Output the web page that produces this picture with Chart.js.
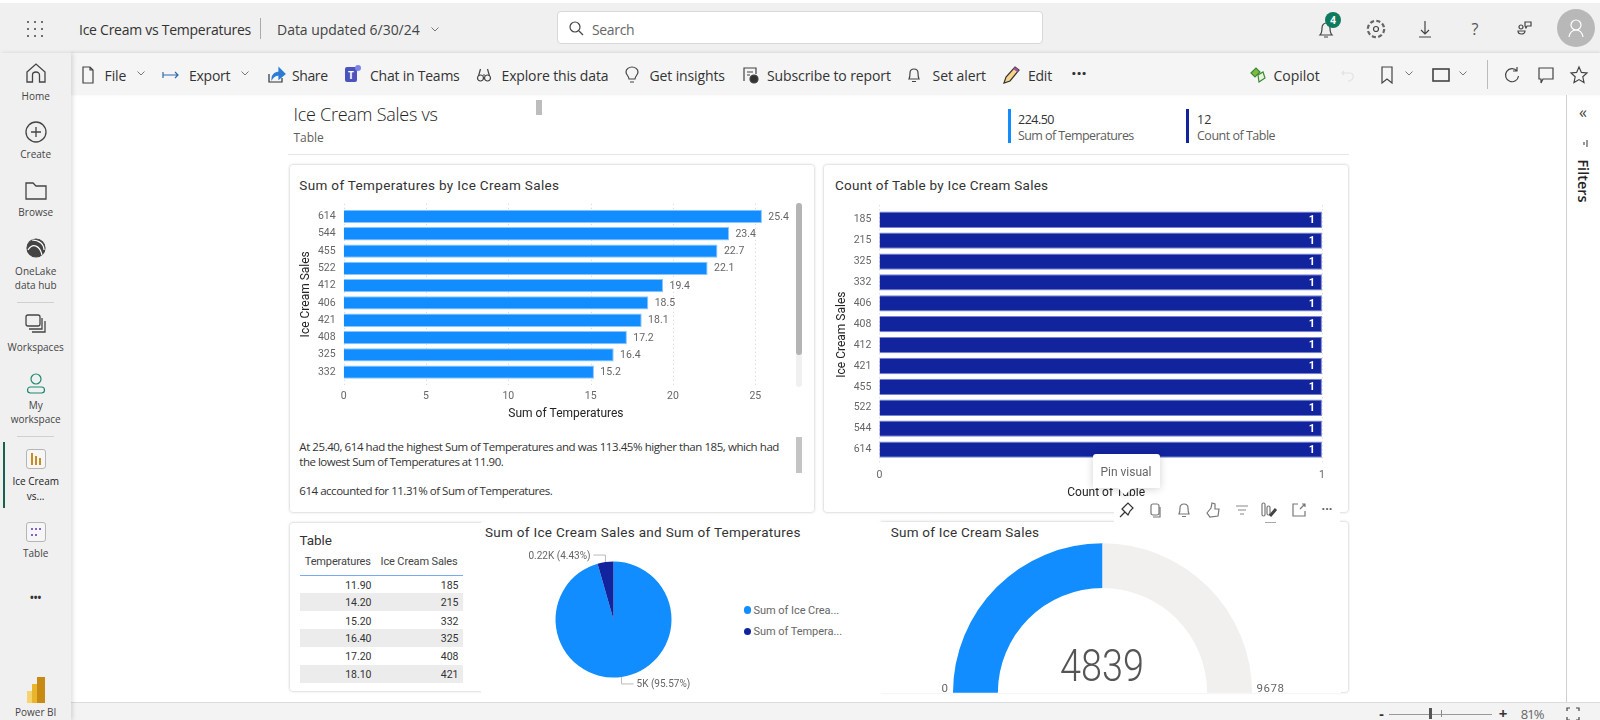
<!DOCTYPE html>
<html>
<head>
<meta charset="utf-8">
<title>Ice Cream vs Temperatures</title>
<script src="https://cdn.jsdelivr.net/npm/chart.js@4/dist/chart.umd.min.js"></script>
<style>
html, body { margin: 0; padding: 0; background: #fff; }
#page { position: relative; width: 1600px; height: 720px; overflow: hidden; background: #fff; }
#page div, #page span, #page canvas, #page svg { position: absolute; }
.t { white-space: nowrap; line-height: 1; transform: translateY(-50%); }
svg { fill: none; stroke: #444; stroke-width: 1.2; overflow: visible; }
</style>
</head>
<body>
<div id="page"></div>
<script>
// data
const salesTop = ['614', '544', '455', '522', '412', '406', '421', '408', '325', '332'];
const tempsTop = [25.4, 23.4, 22.7, 22.1, 19.4, 18.5, 18.1, 17.2, 16.4, 15.2];
const salesAll = ['185', '215', '325', '332', '406', '408', '412', '421', '455', '522', '544', '614'];
const counts = [1, 1, 1, 1, 1, 1, 1, 1, 1, 1, 1, 1];
const tableTemps = ['11.90', '14.20', '15.20', '16.40', '17.20', '18.10'];
const tableSales = ['185', '215', '332', '325', '408', '421'];
const pieNames = ['Sum of Ice Crea...', 'Sum of Tempera...'];
const pieValues = [4839, 224.5];
const pieText = ['5K (95.57%)', '0.22K (4.43%)'];
const gaugeValues = [4839, 4839];
const gaugeText = ['0', '4839', '9678'];

const BLUE = '#118DFF', NAVY = '#12239E';
const UI = '"Open Sans", "Noto Sans", sans-serif';
const DIN = 'Roboto, "Noto Sans", sans-serif';
const page = document.getElementById('page');

function box(x, y, w, h, bg, extra) {
    const d = document.createElement('div');
    d.style.cssText = `left:${x}px;top:${y}px;width:${w}px;height:${h}px;background:${bg};${extra || ''}`;
    page.appendChild(d);
    return d;
}

// y is the text's vertical centre; x2 stretches the text to end at that x
function text(x, y, s, size, color, o) {
    o = o || {};
    const d = document.createElement('div');
    d.className = 't';
    d.textContent = s;
    d.style.cssText = `top:${y}px;font:${o.weight || 400} ${size}px ${o.font || UI};color:${color};`;
    if (o.right !== undefined) d.style.right = (1600 - o.right) + 'px';
    else if (o.center) { d.style.left = x + 'px'; d.style.transform = 'translate(-50%,-50%)'; }
    else d.style.left = x + 'px';
    page.appendChild(d);
    if (o.x2) d.style.letterSpacing = ((o.x2 - x - d.offsetWidth) / s.length) + 'px';
    return d;
}

function icon(x, y, body, o) {
    const s = document.createElementNS('http://www.w3.org/2000/svg', 'svg');
    s.setAttribute('width', 24);
    s.setAttribute('height', 24);
    s.setAttribute('viewBox', '-12 -12 24 24');
    s.style.left = (x - 12) + 'px';
    s.style.top = (y - 12) + 'px';
    if (o && o.sw) s.style.strokeWidth = o.sw;
    s.innerHTML = body;
    page.appendChild(s);
}

const chev = '<path d="M-3.5 -1.5 L0 2 L3.5 -1.5" stroke="#777" stroke-width="1"/>';

// app chrome
box(0, 0, 1600, 3, '#fff');
box(0, 3, 1600, 50, '#f0f0f0');
box(71, 53, 1529, 42, '#f5f5f5', 'box-shadow:0 -1px 3px rgba(0,0,0,.1);');
box(71, 702, 1529, 18, '#f3f3f3', 'border-top:1px solid #dcdcdc;box-sizing:border-box;');
box(0, 53, 71, 667, '#f0f0f0', 'box-shadow:2px 0 4px rgba(0,0,0,.12);');
box(1566, 95, 1, 607, '#d0d0d0');

// top bar
[-1, 0, 1].forEach(r => [-1, 0, 1].forEach(c => box(35 + c * 7 - 1, 29 + r * 7 - 1, 2, 2, '#444', 'border-radius:50%;')));
text(79, 29, 'Ice Cream vs Temperatures', 14, '#333', { x2: 251.5 });
box(260, 18, 1, 21, '#aaa');
text(277, 29, 'Data updated 6/30/24', 14, '#444', { x2: 419.5 });
icon(435, 29, chev);
box(557, 11, 486, 33, '#fff', 'border:1px solid #d8d8d8;border-radius:4px;box-sizing:border-box;');
icon(576, 28, '<circle cx="-1" cy="-1" r="5"/><path d="M3 3 L7 7"/>');
text(592, 29, 'Search', 14, '#666', { x2: 634 });
icon(1325.5, 30, '<path d="M-6 5 C-4 3 -4 1 -4 -2 C-4 -5 -2 -7 0 -7 C2 -7 4 -5 4 -2 C4 1 4 3 6 5 Z M-2 7 L2 7"/>');
box(1325, 12, 16, 16, '#0e7a5e', 'border-radius:50%;');
text(1333, 20, '4', 10, '#fff', { center: true, weight: 700 });
icon(1375.5, 29, '<circle r="2.5"/><circle r="8" stroke-width="2.6" stroke-dasharray="4 2.3" stroke="#666"/><circle r="7" fill="#f0f0f0" stroke="none"/><circle r="2.5"/>');
icon(1425, 29, '<path d="M0 -8 L0 5 M-4 1 L0 5 L4 1 M-6 8 L6 8"/>');
text(1475, 29, '?', 16, '#555', { center: true });
icon(1524.5, 29, '<circle cx="-4" cy="-2" r="2"/><path d="M-7 2 L0 2 C0 6 -7 6 -7 2Z M0 -3 L0 -7 L6 -7 L6 -3 L2 -3 L1 -1 Z"/>');
box(1557, 9, 38, 38, '#b8b8b8', 'border-radius:50%;');
icon(1576, 28, '<circle cy="-3" r="5" stroke="#fff"/><path d="M-7 9 C-6 3 -3 2 0 2 C3 2 6 3 7 9" stroke="#fff"/>');

// ribbon
const ribbon = [
    [104.6, 'File', 126], [189, 'Export', 230.5], [292, 'Share', 328], [370, 'Chat in Teams', 460],
    [501.5, 'Explore this data', 608], [649.5, 'Get insights', 725], [767, 'Subscribe to report', 891],
    [932.6, 'Set alert', 986], [1028, 'Edit', 1052], [1273.5, 'Copilot', 1319.4]
];
ribbon.forEach(r => text(r[0], 74.7, r[1], 14, '#333', { x2: r[2] }));
icon(88, 74.5, '<path d="M-5 -8 L2 -8 L5 -5 L5 8 L-5 8 Z M2 -8 L2 -5 L5 -5"/>');
icon(141, 73, chev);
icon(171, 74.5, '<path d="M-8 -3 L-8 3 M-8 0 L7 0 M4 -3 L7 0 L4 3" stroke="#2b6cb0"/>');
icon(245, 73, chev);
icon(275.5, 74.5, '<path d="M-7 -1 L-7 7 L6 7 L6 3" stroke="#333"/><path d="M-4 4 C-4 -1 0 -3 3 -3 L3 -7 L9 -1 L3 4 L3 0 C0 0 -2 1 -4 4Z" fill="#2b7cd3" stroke="#2b7cd3"/>');
box(345, 67, 12, 15, '#4b53bc', 'border-radius:2px;');
box(355, 65, 6, 6, '#7b83eb', 'border-radius:50%;');
text(351, 74.7, 'T', 10, '#fff', { center: true, weight: 700 });
icon(484, 74.5, '<circle cx="-3.5" cy="3" r="3"/><circle cx="3.5" cy="3" r="3"/><path d="M-5.5 1 L-3.5 -6 M5.5 1 L3.5 -6 M-1 0 L1 0"/>');
icon(631.6, 74.5, '<path d="M-3 4 C-3 1 -6 0 -6 -3 C-6 -6 -3 -8 0 -8 C3 -8 6 -6 6 -3 C6 0 3 1 3 4 Z M-2 7 L2 7"/>');
icon(750, 74.5, '<path d="M-6 6 L-6 -7 L6 -7 L6 -1 M-3 -3 L3 -3 M-3 0 L0 0"/><circle cx="4" cy="4" r="4" fill="#333"/>');
icon(914, 74.5, '<path d="M-5 4 C-4 2 -4 0 -4 -2 C-4 -5 -2 -6 0 -6 C2 -6 4 -5 4 -2 C4 0 4 2 5 4 Z M-2 6.5 L2 6.5"/>');
icon(1011, 74.5, '<path d="M-7 8 L-5 2 L4 -8 L8 -5 L-1 6 Z" fill="#f6d58a" stroke="#333"/><path d="M3 -7 L7 -4" stroke="#a0509f" stroke-width="2.5"/>');
text(1079, 73, '···', 18, '#333', { center: true, weight: 700 });
icon(1257.6, 74.5, '<path d="M-7 -2 L-2 -7 L2 -3 L-3 2 Z" fill="#7fba3a" stroke="#3a8a3a"/><path d="M0 0 L5 -3 L7 3 L1 7 Z" fill="#e8f4d9" stroke="#3a8a3a"/>');
icon(1348, 74.5, '<path d="M-4 -4 L-6 -2 L-4 0 M-6 -2 L2 -2 C7 -2 6 6 0 6" stroke="#e2e2e2"/>');
icon(1386.7, 74.5, '<path d="M-5 -8 L5 -8 L5 8 L0 4 L-5 8 Z"/>');
icon(1408.7, 73, chev);
icon(1441, 74.5, '<rect x="-8" y="-6" width="16" height="12" stroke-width="1.6"/>');
icon(1463, 73, chev);
box(1487, 60, 1, 29, '#bbb');
icon(1511.7, 74.5, '<path d="M5 -4 A6.5 6.5 0 1 0 6.5 1 M5 -8 L5 -4 L1 -4"/>');
icon(1546, 74.5, '<path d="M-7 -7 L7 -7 L7 4 L-3 4 L-5 8 L-5 4 L-7 4 Z"/>');
icon(1579, 74.5, '<path d="M0 -8 L2.4 -2.6 L8 -2 L3.8 1.8 L5 7.5 L0 4.6 L-5 7.5 L-3.8 1.8 L-8 -2 L-2.4 -2.6 Z"/>');

// filter pane
text(1583, 112, '«', 16, '#444', { center: true });
icon(1587, 143, '<path d="M-3 -1 L-3 2 M0 -3 L0 4" stroke="#555"/>');
const filters = text(1583, 181, 'Filters', 14.5, '#222', { center: true, weight: 600, font: '"Open Sans", sans-serif' });
filters.style.transform = 'translate(-50%,-50%) rotate(90deg)';

// nav rail
const nav = [
    [95.7, 'Home'], [154, 'Create'], [212, 'Browse'], [271, 'OneLake'], [285, 'data hub'], [346.7, 'Workspaces'],
    [405, 'My'], [419, 'workspace'], [481, 'Ice Cream'], [495.7, 'vs...'], [553, 'Table'], [711.7, 'Power BI']
];
nav.forEach(n => text(35.7, n[0], n[1], 10, n[1] === 'Ice Cream' || n[1] === 'vs...' ? '#222' : '#444', { center: true }));
icon(35.7, 73, '<path d="M-9 -1 L0 -9 L9 -1 L9 9 L3.5 9 L3.5 2 C3.5 -2 -3.5 -2 -3.5 2 L-3.5 9 L-9 9 Z"/>', { sw: 1.3 });
icon(35.7, 131.7, '<circle r="10"/><path d="M0 -5 L0 5 M-5 0 L5 0"/>', { sw: 1.3 });
icon(35.7, 190.7, '<path d="M-10 8 L-10 -8 L-3 -8 L0 -5 L10 -5 L10 8 Z"/>', { sw: 1.3 });
icon(35.7, 248, '<circle r="9" fill="#444"/><path d="M-8 2 C-3 -6 4 -2 6 7 M-4 -8 C3 -8 8 -4 8 2" stroke="#fff"/>');
box(17, 302, 37, 1, '#d0d0d0');
icon(35.7, 323, '<rect x="-10" y="-8" width="14" height="11" rx="2"/><path d="M-7 6 L6 6 L6 -5 M-4 9 L9 9 L9 -2"/>', { sw: 1.3 });
icon(35.7, 383, '<circle cy="-4" r="5" stroke="#1a8a70"/><rect x="-8.5" y="4" width="17" height="6" rx="3" stroke="#1a8a70"/>', { sw: 1.2 });
box(17, 436, 37, 1, '#d0d0d0');
box(3, 442, 1, 66, '#17624f', 'width:1.5px;');
box(26, 449, 20, 20, '#f6f6f6', 'border:1px solid #b5b5b5;border-radius:3px;box-sizing:border-box;');
icon(35.7, 459, '<path d="M-4 -6 L-4 6 M0 -3 L0 6 M4 -1 L4 6" stroke="#c98a1f" stroke-width="2"/>');
box(26, 522, 20, 20, '#f6f6f6', 'border:1px solid #b5b5b5;border-radius:3px;box-sizing:border-box;');
[[-4, -3], [0, -3], [4, -3], [-4, 3], [0, 3]].forEach(p => box(35.7 + p[0] - 1, 532 + p[1] - 1, 2.2, 2.2, '#5b2fc0', 'border-radius:50%;'));
text(35.7, 597, '•••', 10, '#333', { center: true, weight: 700 });
box(27, 691, 8, 12, '#f7d36b');
box(32, 684, 8, 19, '#e9b52c');
box(37, 677, 8, 26, '#c98a14');

// status bar
text(1381.5, 713, '-', 14, '#333', { center: true, weight: 700 });
box(1388.5, 713.5, 103.5, 1, '#999');
box(1429, 708, 2.5, 11, '#555');
box(1441, 710, 1, 7, '#888');
text(1503, 713, '+', 15, '#333', { center: true, weight: 700 });
text(1520.7, 713.5, '81%', 13, '#666', { x2: 1544 });
icon(1572.6, 713.5, '<path d="M-6 -3 L-6 -6 L-3 -6 M3 -6 L6 -6 L6 -3 M6 3 L6 6 L3 6 M-3 6 L-6 6 L-6 3"/>');

// report header
text(293.4, 114, 'Ice Cream Sales vs', 18, '#252423', { x2: 437.8, weight: 300 });
text(293.4, 137, 'Table', 12, '#605e5c', { x2: 323.5 });
box(536, 100, 6, 15, '#bdbdbd');
box(288, 153.5, 1060.5, 1.5, '#e6e6e6');
box(1007.5, 109, 3, 34, BLUE);
text(1018, 118.7, '224.50', 12.5, '#333', { x2: 1054 });
text(1018, 135.3, 'Sum of Temperatures', 12.5, '#605e5c', { x2: 1134 });
box(1185.5, 109, 3, 34, NAVY);
text(1197, 118.7, '12', 12.5, '#333');
text(1197, 135.3, 'Count of Table', 12.5, '#605e5c', { x2: 1275 });

// cards
const cardStyle = 'border-radius:3px;box-shadow:0 0 3px rgba(0,0,0,.28);';
box(289.5, 165, 524, 347, '#fff', cardStyle);
box(823.5, 165, 524.5, 347, '#fff', cardStyle);
box(289.5, 523, 195, 168, '#fff', cardStyle);
box(880, 522, 468, 170, '#fff', cardStyle);
box(480.5, 522, 405.5, 171, '#fff');
box(886, 522, 455, 171, '#fff');

text(299.3, 185, 'Sum of Temperatures by Ice Cream Sales', 13.5, '#333', { font: DIN, x2: 559.5 });
text(835, 185, 'Count of Table by Ice Cream Sales', 13.5, '#333', { font: DIN, x2: 1048.5 });

// scrollbars on the first card
box(796, 203, 5.5, 184, '#f0f0f0', 'border-radius:3px;');
box(796, 203, 5.5, 152, '#b4b4b4', 'border-radius:3px;');
box(795.5, 437, 6.5, 36, '#c4c4c4');

// smart narrative
text(299.3, 445.5, 'At 25.40, 614 had the highest Sum of Temperatures and was 113.45% higher than 185, which had', 11.5, '#333', { x2: 778.5 });
text(299.3, 460.5, 'the lowest Sum of Temperatures at 11.90.', 11.5, '#333', { x2: 503.5 });
text(299.3, 489.5, '614 accounted for 11.31% of Sum of Temperatures.', 11.5, '#333', { x2: 552 });

// table visual
text(299.6, 540, 'Table', 13.5, '#333', { font: DIN, x2: 332 });
text(304.8, 561, 'Temperatures', 11, '#444', { font: DIN, x2: 371 });
text(380.6, 561, 'Ice Cream Sales', 11, '#444', { font: DIN, x2: 457.6 });
box(300, 574.5, 163, 1, '#7aa9f5');
const rowCentres = [585, 602.3, 620.7, 638.3, 655.7, 674];
tableTemps.forEach((v, i) => {
    if (i % 2) box(300, rowCentres[i] - 9, 163, 18, '#ececec');
    text(0, rowCentres[i], v, 10.5, '#333', { font: DIN, right: 371.5 });
    text(0, rowCentres[i], tableSales[i], 10.5, '#333', { font: DIN, right: 458.5 });
});

// visual titles that sit on the white panels
text(485, 531.7, 'Sum of Ice Cream Sales and Sum of Temperatures', 13.5, '#333', { font: DIN, x2: 801 });
text(890.7, 531.7, 'Sum of Ice Cream Sales', 13.5, '#333', { font: DIN, x2: 1039 });

// pie legend
box(743.5, 606, 7.5, 7.5, BLUE, 'border-radius:50%;');
box(743.5, 627.5, 7.5, 7.5, NAVY, 'border-radius:50%;');
text(753.5, 609.7, pieNames[0], 11, '#666', { font: DIN, x2: 838.7 });
text(753.5, 631, pieNames[1], 11, '#666', { font: DIN, x2: 841.7 });

function canvasAt(x, y, w, h) {
    const c = document.createElement('canvas');
    c.width = w;
    c.height = h;
    c.style.cssText = `left:${x}px;top:${y}px;width:${w}px;height:${h}px;`;
    page.appendChild(c);
    return c;
}

// dotted verticals run a bit past the plot, as in Power BI
const dotGrid = {
    id: 'dotGrid',
    beforeDatasetsDraw(chart) {
        const { ctx, chartArea, scales } = chart;
        ctx.save();
        ctx.strokeStyle = '#d4d4d4';
        ctx.setLineDash([1, 3]);
        scales.x.ticks.forEach(t => {
            const px = Math.round(scales.x.getPixelForValue(t.value)) + 0.5;
            ctx.beginPath();
            ctx.moveTo(px, chartArea.top - 4);
            ctx.lineTo(px, chartArea.bottom + 5);
            ctx.stroke();
        });
        ctx.restore();
    }
};

const barLabels = {
    id: 'barLabels',
    afterDatasetsDraw(chart, args, opts) {
        const { ctx } = chart;
        const meta = chart.getDatasetMeta(0);
        ctx.save();
        ctx.font = opts.font;
        ctx.fillStyle = opts.color;
        ctx.textBaseline = 'middle';
        ctx.textAlign = opts.inside ? 'right' : 'left';
        meta.data.forEach((bar, i) => {
            const v = chart.data.datasets[0].data[i];
            ctx.fillText(opts.inside ? String(v) : v.toFixed(1), bar.x + opts.dx, bar.y + 0.5);
        });
        ctx.restore();
    }
};

function barOptions(yWidth, xHeight, xMax, top, right, xTitle, titlePad, labels) {
    const tick = { color: '#666', font: { family: DIN, size: 10.5 } };
    const title = { color: '#252423', font: { family: DIN, size: 12 } };
    return {
        indexAxis: 'y',
        responsive: false,
        animation: false,
        layout: { padding: { top: top, right: right, left: 0, bottom: 0 } },
        plugins: { legend: { display: false }, tooltip: { enabled: false }, barLabels: labels },
        scales: {
            x: {
                min: 0, max: xMax,
                afterFit: s => { s.height = xHeight; s.paddingLeft = 0; s.paddingRight = 0; },
                grid: { display: false, drawTicks: false },
                border: { display: false },
                ticks: { ...tick, stepSize: xMax > 2 ? 5 : 1, includeBounds: false, maxRotation: 0, padding: 9 },
                title: { display: true, text: xTitle, ...title, padding: { top: 0, bottom: 0.8 } }
            },
            y: {
                afterFit: s => { s.width = yWidth; s.paddingTop = 0; s.paddingBottom = 0; },
                grid: { display: false, drawTicks: false },
                border: { display: false },
                ticks: { ...tick, padding: 8, autoSkip: false },
                title: { display: true, text: 'Ice Cream Sales', ...title, padding: { top: titlePad, bottom: 0 } }
            }
        }
    };
}

new Chart(canvasAt(296, 198, 498, 224), {
    type: 'bar',
    data: {
        labels: salesTop,
        datasets: [{ data: tempsTop, backgroundColor: BLUE, borderColor: '#8cc6ff', borderWidth: 1, barPercentage: 0.77, categoryPercentage: 1 }]
    },
    options: barOptions(47.6, 41.2, 27, 9.8, 5.7, 'Sum of Temperatures', 2.8, { font: `10.5px ${DIN}`, color: '#666', dx: 6.4 }),
    plugins: [dotGrid, barLabels]
});

new Chart(canvasAt(832, 198, 501, 303), {
    type: 'bar',
    data: {
        labels: salesAll,
        datasets: [{ data: counts, backgroundColor: NAVY, borderColor: '#7683cf', borderWidth: 1, barPercentage: 0.78, categoryPercentage: 1 }]
    },
    options: barOptions(47.4, 41, 1.025, 11.3, 0, 'Count of Table', 2.3, { font: `700 11px ${DIN}`, color: '#fff', dx: -7, inside: true }),
    plugins: [dotGrid, barLabels]
});

// pie labels with elbow leaders, anchored on the arcs
const pieCallouts = {
    id: 'pieCallouts',
    afterDatasetsDraw(chart) {
        const { ctx } = chart;
        ctx.save();
        ctx.font = `10px ${DIN}`;
        ctx.textBaseline = 'middle';
        chart.getDatasetMeta(0).data.forEach((arc, i) => {
            const mid = (arc.startAngle + arc.endAngle) / 2;
            const ax = arc.x + Math.cos(mid) * arc.outerRadius;
            const ay = arc.y + Math.sin(mid) * arc.outerRadius;
            const up = Math.sin(mid) < 0 ? -1 : 1;
            const side = Math.cos(mid) < 0 ? -1 : 1;
            ctx.strokeStyle = '#bbb';
            ctx.beginPath();
            ctx.moveTo(ax, ay);
            ctx.lineTo(ax, ay + up * 7);
            ctx.lineTo(ax + side * 12, ay + up * 7);
            ctx.stroke();
            ctx.fillStyle = '#666';
            ctx.textAlign = side < 0 ? 'right' : 'left';
            ctx.fillText(pieText[i], ax + side * 15, ay + up * 7 + 1);
        });
        ctx.restore();
    }
};

new Chart(canvasAt(483, 545, 261, 149), {
    type: 'pie',
    data: { labels: pieNames, datasets: [{ data: pieValues, backgroundColor: [BLUE, NAVY], borderWidth: 0, radius: 58 }] },
    options: {
        responsive: false,
        animation: false,
        plugins: { legend: { display: false }, tooltip: { enabled: false } }
    },
    plugins: [pieCallouts]
});

// gauge
new Chart(canvasAt(953, 542.7, 299, 150), {
    type: 'doughnut',
    data: { datasets: [{ data: gaugeValues, backgroundColor: [BLUE, '#F1F0EE'], borderWidth: 0 }] },
    options: {
        responsive: false,
        animation: false,
        rotation: -90,
        circumference: 180,
        cutout: '70%',
        plugins: { legend: { display: false }, tooltip: { enabled: false } }
    }
});
const gaugeValue = text(1102, 664.5, gaugeText[1], 45, '#555', { center: true, weight: 300, font: DIN });
gaugeValue.style.transform = 'translate(-50%,-50%) scaleX(0.84)';
text(0, 687.7, gaugeText[0], 11.5, '#666', { font: DIN, right: 948 });
text(1256.4, 687.7, gaugeText[2], 11.5, '#666', { font: DIN, x2: 1284.7 });

// hover toolbar and tooltip of the second card
box(1114, 505, 226, 17, '#fff');
box(1265, 521.5, 11, 1, '#aaa');
const hover = [1126, 1155, 1184, 1213, 1242, 1269, 1299];
icon(hover[0], 510, '<path d="M-6 7 L-1 2 M-4 -1 L2 5 L4 1 L7 -2 L2 -7 L-1 -4 Z" stroke="#333"/>');
icon(hover[1], 510, '<rect x="-4" y="-6" width="8" height="11" rx="2" stroke="#777"/><path d="M-2 7 L5 7 L5 -3" stroke="#777"/>');
icon(hover[2], 510, '<path d="M-5 4 C-4 2 -4 0 -4 -2 C-4 -5 -2 -6 0 -6 C2 -6 4 -5 4 -2 C4 0 4 2 5 4 Z M-2 6.5 L2 6.5" stroke="#777"/>');
icon(hover[3], 510, '<path d="M-6 3 L-2 -2 L-1 -7 L2 -6 L2 -1 L6 -1 L5 6 L-3 7 Z" stroke="#777"/>');
icon(hover[4], 510, '<path d="M-6 -4 L6 -4 M-4 0 L4 0 M-2 4 L2 4" stroke="#888"/>');
icon(hover[5], 510, '<rect x="-7" y="-7" width="3" height="13" rx="1.5" stroke="#777"/><rect x="-2" y="-4" width="3" height="9" rx="1.5" stroke="#777"/><path d="M1 6 L7 -1" stroke="#444" stroke-width="3"/>');
icon(hover[6], 510, '<path d="M-1 -6 L-6 -6 L-6 6 L6 6 L6 1 M1 -1 L6 -6 M3 -6 L6 -6 L6 -3" stroke="#777"/>');
text(1327, 508, '···', 13, '#666', { center: true, weight: 700 });
box(1092.5, 454, 67.5, 34, '#fff', 'border-radius:3px;box-shadow:0 1px 8px rgba(0,0,0,.18);');
box(1119.5, 483, 10, 10, '#fff', 'transform:rotate(45deg);box-shadow:3px 3px 5px rgba(0,0,0,.08);');
box(1093, 480, 67, 8, '#fff');
text(1126, 472, 'Pin visual', 12, '#666', { font: DIN, center: true });
</script>
</body>
</html>
